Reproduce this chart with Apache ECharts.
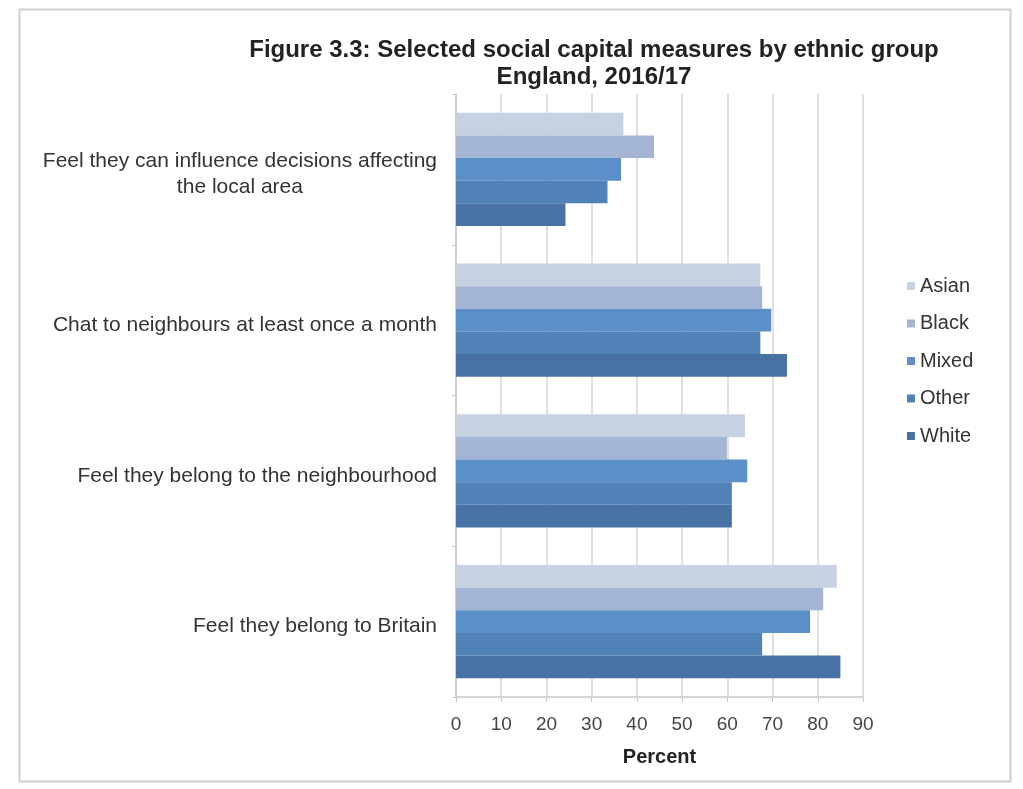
<!DOCTYPE html>
<html>
<head>
<meta charset="utf-8">
<script src="https://cdn.jsdelivr.net/npm/echarts@6/dist/echarts.min.js"></script>
<style>
html,body{margin:0;padding:0;background:#fff;}
#chart{width:1023px;height:789px;}
</style>
</head>
<body>
<div id="chart"></div>
<script>
var categories = [
  "Feel they can influence decisions affecting\nthe local area",
  "Chat to neighbours at least once a month",
  "Feel they belong to the neighbourhood",
  "Feel they belong to Britain"
];
var seriesNames = ["Asian", "Black", "Mixed", "Other", "White"];
var asian = [37.0, 67.3, 63.9, 84.2];
var black = [43.8, 67.7, 59.9, 81.2];
var mixed = [36.5, 69.7, 64.4, 78.3];
var other = [33.5, 67.3, 61.0, 67.7];
var white = [24.2, 73.2, 61.0, 85.0];
var xTicks = [0, 10, 20, 30, 40, 50, 60, 70, 80, 90];

var values = [asian, black, mixed, other, white];
var colors = ["#c6d1e2", "#a3b4d5", "#5a8fc8", "#5081b7", "#4872a6"];
var font = "'Liberation Sans', Arial, sans-serif";

var chart = echarts.init(document.getElementById('chart'));
var series = seriesNames.map(function (n, i) {
  return {
    name: n,
    type: 'bar',
    data: values[i],
    barGap: '0%',
    barCategoryGap: '25%',
    itemStyle: { color: colors[i] },
    emphasis: { disabled: true }
  };
});

chart.setOption({
  animation: false,
  backgroundColor: '#fff',
  title: {
    text: 'Figure 3.3: Selected social capital measures by ethnic group\nEngland, 2016/17',
    left: 589,
    top: 32,
    textAlign: 'center',
    textStyle: { fontFamily: font, fontWeight: 'bold', fontSize: 24, color: '#222', lineHeight: 27 }
  },
  legend: {
    orient: 'vertical',
    left: 902,
    top: 271,
    itemWidth: 8,
    itemHeight: 8,
    itemGap: 17.5,
    icon: 'rect',
    data: seriesNames,
    textStyle: { fontFamily: font, fontSize: 20, color: '#333', padding: [0, 0, 0, 0] }
  },
  grid: { left: 456, right: 160, top: 94, bottom: 92 },
  xAxis: {
    type: 'value',
    min: 0,
    max: 90,
    interval: 10,
    name: 'Percent',
    nameLocation: 'middle',
    nameGap: 50,
    nameTextStyle: { fontFamily: font, fontWeight: 'bold', fontSize: 20, color: '#222' },
    axisLine: { show: true, lineStyle: { color: '#c8c8c8', width: 1.5 } },
    axisTick: { show: true, length: 5, lineStyle: { color: '#c8c8c8' } },
    splitLine: { show: true, lineStyle: { color: '#d6d6d6', width: 1.5 } },
    axisLabel: {
      fontFamily: font, fontSize: 19, color: '#444', margin: 18,
      formatter: function (v) { return xTicks.indexOf(v) >= 0 ? String(v) : ''; }
    }
  },
  yAxis: {
    type: 'category',
    inverse: true,
    data: categories,
    axisLine: { show: true, lineStyle: { color: '#c8c8c8', width: 1.5 } },
    axisTick: { show: true, length: 4, lineStyle: { color: '#c8c8c8' } },
    axisLabel: {
      margin: 19,
      fontFamily: font,
      fontSize: 21,
      color: '#333',
      lineHeight: 26,
      padding: [10, 0, 0, 0],
      formatter: function (v) {
        return v.split('\n').map(function (s) { return '{c|' + s + '}'; }).join('\n');
      },
      rich: { c: { align: 'center', fontFamily: font, fontSize: 21, color: '#333', lineHeight: 26 } }
    }
  },
  graphic: [{
    type: 'rect',
    shape: { x: 19.5, y: 9.5, width: 991, height: 772 },
    style: { fill: 'none', stroke: '#cfcfcf', lineWidth: 2 },
    z: -1
  }],
  series: series
});
</script>
</body>
</html>
